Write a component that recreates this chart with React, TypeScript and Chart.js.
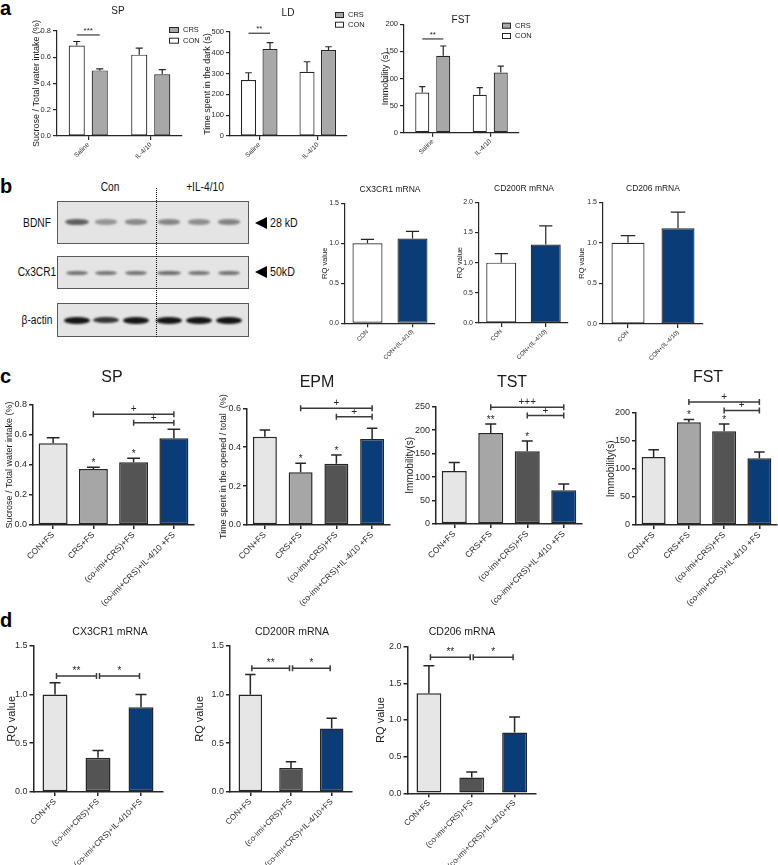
import React, { useEffect, useRef } from 'react';
import { Chart, registerables } from 'chart.js';

Chart.register(...registerables);

const FONT = "'Liberation Sans', Arial, Helvetica, sans-serif";
const INK = '#262626';
Chart.defaults.font.family = FONT;

// ---------------- data : panel a ----------------
const aGroups = ['Saline', 'IL-4/10'];
const aSeries = ['CON', 'CRS'];
const aSpCon = [0.69, 0.62];
const aSpConSem = [0.03, 0.05];
const aSpCrs = [0.5, 0.47];
const aSpCrsSem = [0.012, 0.035];
const aLdCon = [269, 309];
const aLdConSem = [35, 48];
const aLdCrs = [418, 413];
const aLdCrsSem = [31, 16];
const aFstCon = [74, 70];
const aFstConSem = [11, 13];
const aFstCrs = [142, 111];
const aFstCrsSem = [18, 12];
// [dataset1, index1, dataset2, index2, y value, label]
const aSpSig: any[] = [[0, 0, 1, 0, 0.77, '***']];
const aLdSig: any[] = [[0, 0, 1, 0, 494, '**']];
const aFstSig: any[] = [[0, 0, 1, 0, 173, '**']];

// ---------------- data : panel b ----------------
const bGroups = ['CON', 'CON+(IL-4/10)'];
const bCx3cr1 = [1.0, 1.06];
const bCx3cr1Sem = [0.05, 0.09];
const bCd200r = [1.0, 1.3];
const bCd200rSem = [0.15, 0.31];
const bCd206 = [1.0, 1.18];
const bCd206Sem = [0.09, 0.2];
const blotLanes = ['Con', '+IL-4/10'];
const blotRows = ['BDNF', 'Cx3CR1', 'β-actin'];
const blotMarkers = ['28 kD', '50kD'];
const blotBdnf = [0.85, 0.5, 0.58, 0.6, 0.55, 0.62];
const blotCx3cr1 = [0.72, 0.7, 0.72, 0.75, 0.7, 0.72];
const blotActin = [1, 0.85, 1, 1, 1, 1];

// ---------------- data : panel c ----------------
const cGroups = ['CON+FS', 'CRS+FS', '(co-imi+CRS)+FS', '(co-imi+CRS)+IL-4/10 +FS'];
const cSp = [0.545, 0.373, 0.418, 0.578];
const cSpSem = [0.037, 0.012, 0.027, 0.06];
const cSpStars = ['', '*', '*', ''];
const cSpSig: any[] = [[0, 1, 0, 3, 0.738, '+'], [0, 2, 0, 3, 0.682, '+']];
const cEpm = [0.454, 0.271, 0.315, 0.442];
const cEpmSem = [0.035, 0.046, 0.045, 0.055];
const cEpmStars = ['', '*', '*', ''];
const cEpmSig: any[] = [[0, 1, 0, 3, 0.6, '+'], [0, 2, 0, 3, 0.557, '+']];
const cTst = [113, 194, 155, 72];
const cTstSem = [18, 19, 22, 13];
const cTstStars = ['', '**', '*', ''];
const cTstSig: any[] = [[0, 1, 0, 3, 249, '+++'], [0, 2, 0, 3, 231, '+']];
const cFst = [121, 183, 167, 119];
const cFstSem = [13, 5, 13, 11];
const cFstStars = ['', '*', '*', ''];
const cFstSig: any[] = [[0, 1, 0, 3, 219, '+'], [0, 2, 0, 3, 204, '+']];

// ---------------- data : panel d ----------------
const dGroups = ['CON+FS', '(co-imi+CRS)+FS', '(co-imi+CRS)+IL-4/10+FS'];
const dCx3cr1 = [1.0, 0.35, 0.87];
const dCx3cr1Sem = [0.12, 0.075, 0.13];
const dCx3cr1Sig: any[] = [[0, 0, 0, 1, 1.19, '**'], [0, 1, 0, 2, 1.19, '*']];
const dCd200r = [1.0, 0.245, 0.65];
const dCd200rSem = [0.205, 0.065, 0.105];
const dCd200rSig: any[] = [[0, 0, 0, 1, 1.27, '**'], [0, 1, 0, 2, 1.27, '*']];
const dCd206 = [1.365, 0.215, 0.83];
const dCd206Sem = [0.375, 0.075, 0.21];
const dCd206Sig: any[] = [[0, 0, 0, 1, 1.855, '**'], [0, 1, 0, 2, 1.855, '*']];

// ---------------- styles ----------------
const WHITE = '#ffffff';
const GREY = '#a8a8a8';
const NAVY = '#0a3c78';
const cColors = ['#e6e6e6', '#a6a6a6', '#545454', NAVY];
const dColors = ['#e6e6e6', '#545454', NAVY];
const bColors = [WHITE, NAVY];
const blotLaneX = [77, 106, 136, 169, 199, 229];

type DS = { label: string; data: number[]; sem: number[]; color: string | string[] };
type Spec = {
  id: string;
  L: number; T: number; R: number; B: number;
  x0: number; x1: number; yTop: number; yBot: number;
  yMax: number; yStep: number; dec: number;
  tickSize: number; xTickSize: number;
  yTitle: string; yTitleX: number; yTitleSize: number;
  title: string; titleX: number; titleY: number; titleSize: number;
  labels: string[]; datasets: DS[];
  catPct: number; barPct: number; lw: number;
  stars?: string[]; starSize?: number;
  sigs?: any[]; sigSize?: number; caps?: boolean; inset?: number;
  legend?: { x: number; ys: number[]; order: number[]; size: number; w: number; h: number };
};

function makePlugin(s: Spec) {
  return {
    id: 'annot_' + s.id,
    afterDatasetsDraw(chart: any) {
      const ctx = chart.ctx;
      const ys = chart.scales.y;
      ctx.save();
      s.datasets.forEach((ds, di) => {
        const meta = chart.getDatasetMeta(di);
        ds.sem.forEach((e, i) => {
          const el: any = meta.data[i];
          if (!el) return;
          const top = ys.getPixelForValue(ds.data[i] + e);
          const cap = el.width * 0.22;
          ctx.strokeStyle = INK;
          ctx.lineWidth = s.lw;
          ctx.beginPath();
          ctx.moveTo(el.x, el.y);
          ctx.lineTo(el.x, top);
          ctx.moveTo(el.x - cap, top);
          ctx.lineTo(el.x + cap, top);
          ctx.stroke();
          const st = s.stars ? s.stars[i] : '';
          if (st) {
            ctx.fillStyle = INK;
            ctx.font = `${s.starSize || 10}px ${FONT}`;
            ctx.textAlign = 'center';
            ctx.textBaseline = 'alphabetic';
            ctx.fillText(st, el.x, top - 1);
          }
        });
      });
      ctx.restore();
    },
    afterDraw(chart: any) {
      const ctx = chart.ctx;
      const ys = chart.scales.y;
      ctx.save();
      ctx.fillStyle = '#1a1a1a';
      ctx.font = `${s.titleSize}px ${FONT}`;
      ctx.textAlign = 'center';
      ctx.textBaseline = 'middle';
      ctx.fillText(s.title, s.titleX - s.L, s.titleY - s.T);
      (s.sigs || []).forEach((g: any) => {
        const [d1, i1, d2, i2, yv, txt] = g;
        const e1: any = chart.getDatasetMeta(d1).data[i1];
        const e2: any = chart.getDatasetMeta(d2).data[i2];
        const ins = s.inset || 0;
        const xa = e1.x + ins;
        const xb = e2.x - ins;
        const y = ys.getPixelForValue(yv);
        ctx.strokeStyle = '#3a3a3a';
        ctx.lineWidth = s.lw;
        ctx.beginPath();
        ctx.moveTo(xa, y);
        ctx.lineTo(xb, y);
        if (s.caps) {
          ctx.moveTo(xa, y - 3);
          ctx.lineTo(xa, y + 3);
          ctx.moveTo(xb, y - 3);
          ctx.lineTo(xb, y + 3);
        }
        ctx.stroke();
        ctx.fillStyle = INK;
        ctx.font = `${s.sigSize || 10}px ${FONT}`;
        ctx.textAlign = 'center';
        ctx.textBaseline = 'alphabetic';
        ctx.fillText(txt, (xa + xb) / 2, y - 2);
      });
      if (s.legend) {
        const lg = s.legend;
        lg.order.forEach((di, k) => {
          const ds = s.datasets[di];
          const yy = lg.ys[k] - s.T;
          const xx = lg.x - s.L;
          ctx.fillStyle = ds.color as string;
          ctx.fillRect(xx, yy - lg.h / 2, lg.w, lg.h);
          ctx.strokeStyle = INK;
          ctx.lineWidth = 1;
          ctx.strokeRect(xx + 0.5, yy - lg.h / 2 + 0.5, lg.w - 1, lg.h - 1);
          ctx.fillStyle = '#222';
          ctx.font = `${lg.size}px ${FONT}`;
          ctx.textAlign = 'left';
          ctx.textBaseline = 'middle';
          ctx.fillText(ds.label, xx + lg.w + 4, yy);
        });
      }
      ctx.restore();
    },
  };
}

function ChartBox({ s }: { s: Spec }) {
  const ref = useRef<HTMLCanvasElement>(null);
  useEffect(() => {
    const cv = ref.current;
    if (!cv) return;
    const pl = Math.max(0, s.yTitleX - s.L - 0.6 * s.yTitleSize);
    const yw = s.x0 - s.L - pl;
    const xh = s.B - s.yBot;
    const chart = new Chart(cv, {
      type: 'bar',
      data: {
        labels: s.labels,
        datasets: s.datasets.map((d) => ({
          label: d.label,
          data: d.data,
          backgroundColor: d.color as any,
          borderColor: INK,
          borderWidth: s.lw,
          borderSkipped: false,
          categoryPercentage: s.catPct,
          barPercentage: s.barPct,
        })),
      },
      options: {
        responsive: false,
        maintainAspectRatio: false,
        animation: false,
        devicePixelRatio: 1,
        events: [],
        layout: { padding: { left: pl, top: s.yTop - s.T, right: s.R - s.x1, bottom: 0 } },
        plugins: { legend: { display: false }, tooltip: { enabled: false }, title: { display: false } },
        scales: {
          x: {
            type: 'category',
            offset: true,
            grid: { offset: false, drawOnChartArea: false, drawTicks: true, tickLength: 4, color: INK, lineWidth: s.lw },
            border: { display: true, color: INK, width: s.lw },
            ticks: {
              minRotation: 45,
              maxRotation: 45,
              autoSkip: false,
              padding: 1,
              color: '#2a2a2a',
              font: { family: FONT, size: s.xTickSize },
            },
            afterFit: (sc: any) => {
              sc.height = xh;
            },
          },
          y: {
            min: 0,
            max: s.yMax,
            grid: { drawOnChartArea: false, drawTicks: true, tickLength: 4, color: INK, lineWidth: s.lw },
            border: { display: true, color: INK, width: s.lw },
            ticks: {
              stepSize: s.yStep,
              color: '#2a2a2a',
              font: { family: FONT, size: s.tickSize },
              padding: 2,
              callback: (v: any) => Number(v).toFixed(s.dec),
            },
            title: {
              display: true,
              text: s.yTitle,
              color: '#1a1a1a',
              font: { family: FONT, size: s.yTitleSize },
              padding: 0,
            },
            afterFit: (sc: any) => {
              sc.width = yw;
            },
          },
        },
      } as any,
      plugins: [makePlugin(s)],
    });
    return () => chart.destroy();
  }, []);
  const w = s.R - s.L;
  const h = s.B - s.T;
  return (
    <canvas
      ref={ref}
      width={w}
      height={h}
      style={{ position: 'absolute', left: s.L, top: s.T, width: w, height: h }}
    />
  );
}

function grouped(con: number[], conSem: number[], crs: number[], crsSem: number[]): DS[] {
  return [
    { label: aSeries[0], data: con, sem: conSem, color: WHITE },
    { label: aSeries[1], data: crs, sem: crsSem, color: GREY },
  ];
}

const aCommon = {
  T: 0, B: 178, tickSize: 7.5, xTickSize: 6.5, yTitleSize: 9, titleSize: 10,
  labels: aGroups, lw: 1.2, sigSize: 8, caps: false,
};
const specA: Spec[] = [
  {
    ...aCommon, id: 'aSP', L: 30, R: 205, x0: 57, x1: 182, yTop: 31, yBot: 136,
    yMax: 0.8, yStep: 0.2, dec: 1, yTitle: 'Sucrose / Total water intake (%)', yTitleX: 37,
    title: 'SP', titleX: 118, titleY: 11,
    datasets: grouped(aSpCon, aSpConSem, aSpCrs, aSpCrsSem), catPct: 0.736, barPct: 0.7,
    sigs: aSpSig, legend: { x: 169, ys: [30, 40.7], order: [1, 0], size: 7.5, w: 10, h: 6 },
  },
  {
    ...aCommon, id: 'aLD', L: 201, R: 380, x0: 230, x1: 347, yTop: 32, yBot: 136,
    yMax: 500, yStep: 100, dec: 0, yTitle: 'Time spent in the dark (s)', yTitleX: 208,
    title: 'LD', titleX: 288, titleY: 13,
    datasets: grouped(aLdCon, aLdConSem, aLdCrs, aLdCrsSem), catPct: 0.735, barPct: 0.7,
    sigs: aLdSig, legend: { x: 335, ys: [15, 24.7], order: [1, 0], size: 7.5, w: 9, h: 6 },
  },
  {
    ...aCommon, id: 'aFST', L: 379, R: 548, x0: 404, x1: 519, yTop: 24.3, yBot: 132.7,
    yMax: 200, yStep: 50, dec: 0, yTitle: 'Immobility (s)', yTitleX: 386,
    title: 'FST', titleX: 461, titleY: 20,
    datasets: grouped(aFstCon, aFstConSem, aFstCrs, aFstCrsSem), catPct: 0.73, barPct: 0.67,
    sigs: aFstSig, legend: { x: 502, ys: [25.7, 36], order: [1, 0], size: 7.5, w: 9, h: 6 },
  },
];

const bCommon = {
  T: 175, B: 372, tickSize: 7, xTickSize: 6, yTitleSize: 7.5, titleSize: 8.5,
  labels: bGroups, lw: 1.2, barPct: 1, dec: 1, yStep: 0.5, yTitle: 'RQ value', titleY: 190,
};
const specB: Spec[] = [
  {
    ...bCommon, id: 'bCX', L: 319, R: 445, x0: 345, x1: 435, yTop: 203.3, yBot: 323.3,
    yMax: 1.5, yTitleX: 325, title: 'CX3CR1 mRNA', titleX: 390,
    datasets: [{ label: 'RQ', data: bCx3cr1, sem: bCx3cr1Sem, color: bColors }], catPct: 0.667,
  },
  {
    ...bCommon, id: 'bCD200', L: 454, R: 578, x0: 479, x1: 568, yTop: 202.3, yBot: 323,
    yMax: 2.0, yTitleX: 460, title: 'CD200R mRNA', titleX: 524, titleY: 189,
    datasets: [{ label: 'RQ', data: bCd200r, sem: bCd200rSem, color: bColors }], catPct: 0.674,
  },
  {
    ...bCommon, id: 'bCD206', L: 576, R: 713, x0: 603, x1: 703, yTop: 202.3, yBot: 324,
    yMax: 1.5, yTitleX: 582, title: 'CD206 mRNA', titleX: 653, titleY: 189,
    datasets: [{ label: 'RQ', data: bCd206, sem: bCd206Sem, color: bColors }], catPct: 0.66,
  },
];

const cCommon = {
  T: 365, B: 612, tickSize: 9, xTickSize: 8.5, titleSize: 16, labels: cGroups,
  lw: 1.5, barPct: 1, starSize: 10, sigSize: 10, caps: true, inset: 0,
};
const specC: Spec[] = [
  {
    ...cCommon, id: 'cSP', L: 3, R: 200, x0: 33, x1: 194, yTop: 405, yBot: 525,
    yMax: 0.8, yStep: 0.2, dec: 1, yTitle: 'Sucrose / Total water intake (%)', yTitleX: 10, yTitleSize: 9,
    title: 'SP', titleX: 112, titleY: 378,
    datasets: [{ label: 'SP', data: cSp, sem: cSpSem, color: cColors }], catPct: 0.72,
    stars: cSpStars, sigs: cSpSig,
  },
  {
    ...cCommon, id: 'cEPM', L: 216, R: 396, x0: 247, x1: 390, yTop: 408.3, yBot: 525,
    yMax: 0.6, yStep: 0.2, dec: 1, yTitle: 'Time spent in the opened / total  (%)', yTitleX: 224, yTitleSize: 9,
    title: 'EPM', titleX: 317, titleY: 383,
    datasets: [{ label: 'EPM', data: cEpm, sem: cEpmSem, color: cColors }], catPct: 0.67,
    stars: cEpmStars, sigs: cEpmSig,
  },
  {
    ...cCommon, id: 'cTST', L: 402, R: 590, x0: 436, x1: 582, yTop: 406.7, yBot: 524,
    yMax: 250, yStep: 50, dec: 0, yTitle: 'Immobility(s)', yTitleX: 410, yTitleSize: 10,
    title: 'TST', titleX: 512, titleY: 383,
    datasets: [{ label: 'TST', data: cTst, sem: cTstSem, color: cColors }], catPct: 0.685,
    stars: cTstStars, sigs: cTstSig,
  },
  {
    ...cCommon, id: 'cFST', L: 603, R: 778, x0: 636, x1: 777, yTop: 412.7, yBot: 525,
    yMax: 200, yStep: 50, dec: 0, yTitle: 'Immobility(s)', yTitleX: 611, yTitleSize: 10,
    title: 'FST', titleX: 708, titleY: 378,
    datasets: [{ label: 'FST', data: cFst, sem: cFstSem, color: cColors }], catPct: 0.68,
    stars: cFstStars, sigs: cFstSig,
  },
];

const dCommon = {
  T: 618, B: 865, tickSize: 9, xTickSize: 8, titleSize: 10.5, labels: dGroups,
  lw: 1.5, barPct: 1, catPct: 0.58, sigSize: 10, caps: true, inset: 1.5,
  yTitle: 'RQ value', yTitleSize: 11, yStep: 0.5, dec: 1, titleY: 632,
};
const specD: Spec[] = [
  {
    ...dCommon, id: 'dCX', L: 4, R: 172, x0: 33.5, x1: 162.5, yTop: 645.7, yBot: 792,
    yMax: 1.5, yTitleX: 12, title: 'CX3CR1 mRNA', titleX: 110,
    datasets: [{ label: 'CX3CR1', data: dCx3cr1, sem: dCx3cr1Sem, color: dColors }], sigs: dCx3cr1Sig,
  },
  {
    ...dCommon, id: 'dCD200', L: 192, R: 362, x0: 230, x1: 352, yTop: 645.7, yBot: 792,
    yMax: 1.5, yTitleX: 200, title: 'CD200R mRNA', titleX: 292,
    datasets: [{ label: 'CD200R', data: dCd200r, sem: dCd200rSem, color: dColors }], sigs: dCd200rSig,
  },
  {
    ...dCommon, id: 'dCD206', L: 373, R: 546, x0: 407.5, x1: 536, yTop: 646.7, yBot: 793.3,
    yMax: 2.0, yTitleX: 381, title: 'CD206 mRNA', titleX: 462,
    datasets: [{ label: 'CD206', data: dCd206, sem: dCd206Sem, color: dColors }], sigs: dCd206Sig,
  },
];

function Txt({ x, y, size, children, align = 'center', sx = 1 }: any) {
  const tx = align === 'center' ? '-50%' : '0';
  return (
    <div
      style={{
        position: 'absolute', left: x, top: y, fontSize: size, lineHeight: 1,
        fontFamily: FONT, whiteSpace: 'nowrap', color: '#111',
        transform: `translate(${tx}, -50%) scaleX(${sx})`,
        transformOrigin: align === 'center' ? 'center' : 'left center',
      }}
    >
      {children}
    </div>
  );
}

function Letter({ x, y, ch }: any) {
  return (
    <div style={{ position: 'absolute', left: x, top: y, fontSize: 20, lineHeight: 1, fontWeight: 'bold', fontFamily: FONT, color: '#000' }}>
      {ch}
    </div>
  );
}

function Band({ x, y, w, h, a, dark }: any) {
  return (
    <div
      style={{
        position: 'absolute', left: x - w / 2, top: y - h / 2, width: w, height: h,
        borderRadius: '50%', background: dark ? `rgba(10,10,10,${a})` : `rgba(70,70,70,${a})`,
        filter: 'blur(1.2px)',
      }}
    />
  );
}

function Blot() {
  const boxes = [
    { top: 201, h: 43, bandY: 222, vals: blotBdnf, w: 24, bh: 6, dark: false },
    { top: 256, h: 33, bandY: 273, vals: blotCx3cr1, w: 24, bh: 5, dark: false },
    { top: 303, h: 34, bandY: 320, vals: blotActin, w: 26, bh: 7, dark: true },
  ];
  const labelY = [223, 272, 320];
  return (
    <>
      {boxes.map((b, k) => (
        <div
          key={'box' + k}
          style={{
            position: 'absolute', left: 57, top: b.top, width: 192, height: b.h,
            background: '#e4e4e4', border: '1px solid #5a5a5a', boxSizing: 'border-box',
          }}
        />
      ))}
      {boxes.map((b, k) =>
        b.vals.map((v, i) => (
          <Band key={'b' + k + i} x={blotLaneX[i]} y={b.bandY} w={b.w * (0.85 + 0.15 * v)} h={b.bh * (0.8 + 0.2 * v)} a={b.dark ? 0.95 * v : v} dark={b.dark} />
        ))
      )}
      <div style={{ position: 'absolute', left: 156, top: 188, width: 0, height: 149, borderLeft: '1.5px dotted #111' }} />
      <Txt x={110} y={187} size={12} sx={0.85}>{blotLanes[0]}</Txt>
      <Txt x={205} y={187} size={12} sx={0.85}>{blotLanes[1]}</Txt>
      {blotRows.map((r, k) => (
        <Txt key={r} x={37} y={labelY[k]} size={12} sx={0.85}>{r}</Txt>
      ))}
      {blotMarkers.map((m, k) => (
        <React.Fragment key={m}>
          <div
            style={{
              position: 'absolute', left: 255, top: labelY[k] - 6, width: 0, height: 0,
              borderTop: '6px solid transparent', borderBottom: '6px solid transparent', borderRight: '12px solid #000',
            }}
          />
          <Txt x={270} y={labelY[k]} size={12.5} align="left" sx={0.85}>{m}</Txt>
        </React.Fragment>
      ))}
    </>
  );
}

export default function App() {
  const all = [...specA, ...specB, ...specC, ...specD];
  return (
    <div style={{ position: 'absolute', left: 0, top: 0, width: 778, height: 865, background: '#fff', overflow: 'hidden' }}>
      <Letter x={0} y={-2} ch="a" />
      <Letter x={0} y={176} ch="b" />
      <Letter x={0} y={366} ch="c" />
      <Letter x={0} y={610} ch="d" />
      <Blot />
      {all.map((s) => (
        <ChartBox key={s.id} s={s} />
      ))}
    </div>
  );
}
